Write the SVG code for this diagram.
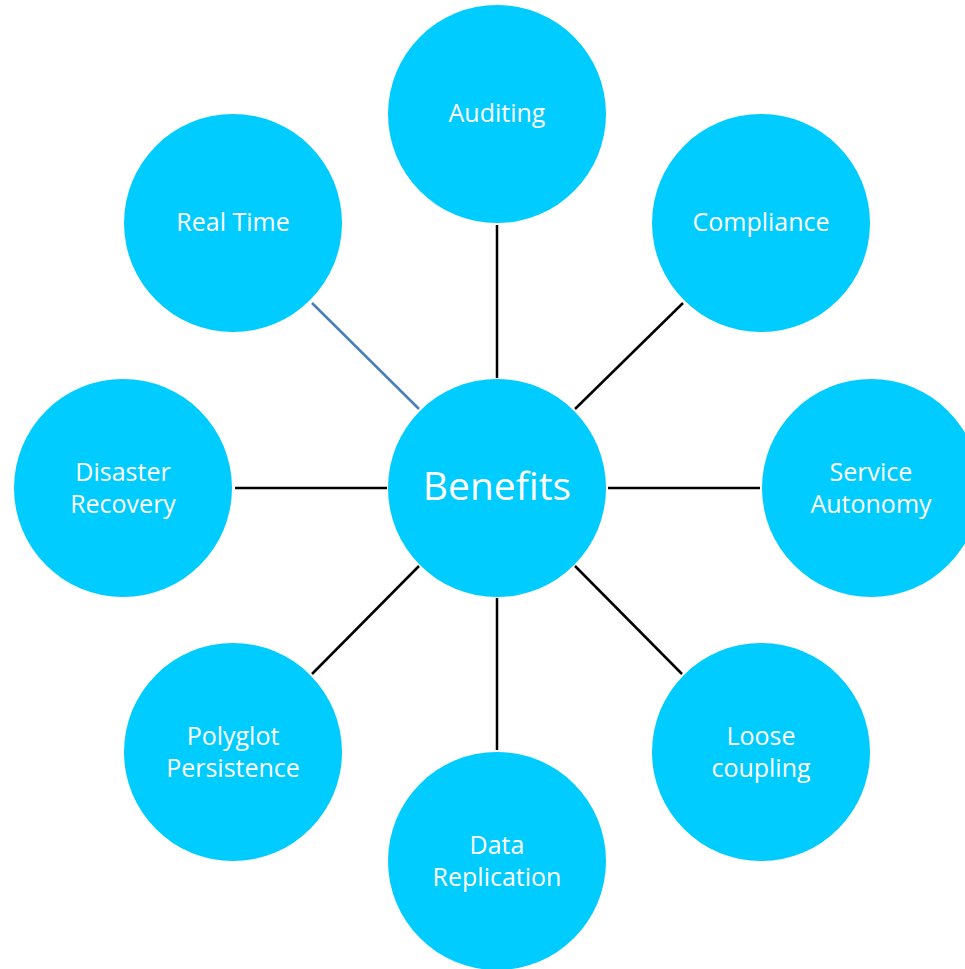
<svg xmlns="http://www.w3.org/2000/svg" width="965" height="969" viewBox="0 0 965 969">
<style>
.node circle{fill:#00CCFF}
.node text{fill:#FFFFFF;font-family:"Open Sans","Noto Sans",sans-serif;font-size:25px;text-anchor:middle}
.node text.big{font-size:39px}
.conn line{stroke:#000000;stroke-width:2.5}
.conn line.blue{stroke:#4A7EBB}
</style>
<rect width="965" height="969" fill="#FFFFFF"/>
<g id="connectors" class="conn">
<line x1="497" y1="225" x2="497" y2="378"/>
<line x1="683" y1="303" x2="575" y2="409"/>
<line x1="608" y1="488" x2="760" y2="488"/>
<line x1="575" y1="566" x2="682" y2="674"/>
<line x1="497" y1="598" x2="497" y2="750"/>
<line x1="419" y1="566" x2="312" y2="674"/>
<line x1="235" y1="488" x2="387" y2="488"/>
<line class="blue" x1="312" y1="303" x2="419" y2="409"/>
</g>
<g id="benefits" class="node"><circle cx="497" cy="488" r="109"/><text class="big" x="497" y="500">Benefits</text></g>
<g id="auditing" class="node"><circle cx="497" cy="114" r="109"/><text x="497" y="122">Auditing</text></g>
<g id="compliance" class="node"><circle cx="761" cy="223" r="109"/><text x="761" y="231">Compliance</text></g>
<g id="service-autonomy" class="node"><circle cx="871" cy="488" r="109"/><text x="871" y="481">Service</text><text x="871" y="513">Autonomy</text></g>
<g id="loose-coupling" class="node"><circle cx="761" cy="752" r="109"/><text x="761" y="745">Loose</text><text x="761" y="777">coupling</text></g>
<g id="data-replication" class="node"><circle cx="497" cy="861" r="109"/><text x="497" y="854">Data</text><text x="497" y="886">Replication</text></g>
<g id="polyglot-persistence" class="node"><circle cx="233" cy="752" r="109"/><text x="233" y="745">Polyglot</text><text x="233" y="777">Persistence</text></g>
<g id="disaster-recovery" class="node"><circle cx="123" cy="488" r="109"/><text x="123" y="481">Disaster</text><text x="123" y="513">Recovery</text></g>
<g id="real-time" class="node"><circle cx="233" cy="223" r="109"/><text x="233" y="231">Real Time</text></g>
</svg>
